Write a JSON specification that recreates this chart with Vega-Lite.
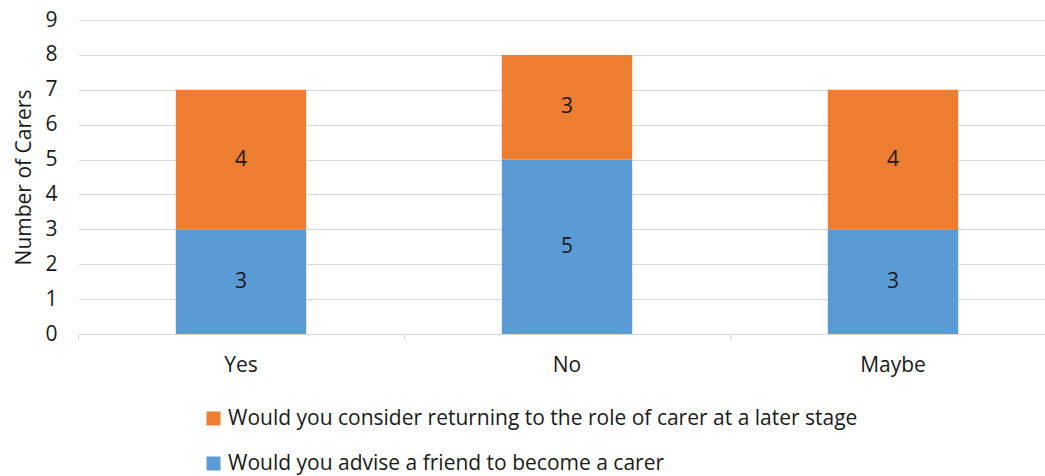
{
  "$schema": "https://vega.github.io/schema/vega-lite/v6.json",
  "width": 967,
  "height": 314,
  "autosize": {"type": "none"},
  "padding": {"left": 78, "top": 20, "right": 0, "bottom": 142},
  "background": "white",
  "config": {"view": {"stroke": null}, "font": "Open Sans"},
  "data": {
    "values": [
      {"answer": "Yes", "series": "Would you advise a friend to become a carer", "count": 3},
      {"answer": "Yes", "series": "Would you consider returning to the role of carer at a later stage", "count": 4},
      {"answer": "No", "series": "Would you advise a friend to become a carer", "count": 5},
      {"answer": "No", "series": "Would you consider returning to the role of carer at a later stage", "count": 3},
      {"answer": "Maybe", "series": "Would you advise a friend to become a carer", "count": 3},
      {"answer": "Maybe", "series": "Would you consider returning to the role of carer at a later stage", "count": 4}
    ]
  },
  "transform": [
    {"stack": "count", "groupby": ["answer"], "sort": [{"field": "series", "order": "ascending"}], "as": ["y0", "y1"]},
    {"calculate": "(datum.y0 + datum.y1) / 2", "as": "ymid"}
  ],
  "resolve": {"axis": {"y": "independent"}},
  "encoding": {
    "x": {
      "field": "answer",
      "type": "nominal",
      "sort": ["Yes", "No", "Maybe"],
      "scale": {"range": [0, 978], "paddingInner": 0.6, "paddingOuter": 0.3},
      "axis": {
        "title": null,
        "labelAngle": 0,
        "labelFontSize": 21,
        "labelColor": "#1a1a1a",
        "labelPadding": 14,
        "domainColor": "#d9d9d9",
        "tickColor": "#d9d9d9",
        "tickSize": 6,
        "bandPosition": -0.75,
        "grid": false
      }
    }
  },
  "layer": [
    {
      "mark": {"type": "bar"},
      "encoding": {
        "y": {
          "field": "y0",
          "type": "quantitative",
          "scale": {"domain": [0, 9], "nice": false},
          "axis": {
            "title": "Number of Carers",
            "titleFontSize": 21,
            "titleFontWeight": "normal",
            "titleColor": "#1a1a1a",
            "titlePadding": 10,
            "labelFontSize": 21,
            "labelColor": "#1a1a1a",
            "labelPadding": 21,
            "values": [0, 1, 2, 3, 4, 5, 6, 7, 8, 9],
            "labelOverlap": false,
            "labelBound": false,
            "ticks": false,
            "domain": false,
            "gridColor": "#d9d9d9",
            "gridWidth": 1
          }
        },
        "y2": {"field": "y1"},
        "color": {
          "field": "series",
          "type": "nominal",
          "scale": {
            "domain": ["Would you consider returning to the role of carer at a later stage", "Would you advise a friend to become a carer"],
            "range": ["#ED7D31", "#5B9BD5"]
          },
          "legend": {
            "title": null,
            "orient": "none",
            "legendX": 125,
            "legendY": 388,
            "direction": "vertical",
            "symbolType": "square",
            "symbolSize": 196,
            "symbolStrokeWidth": 0,
            "labelFont": "Open Sans",
            "labelFontSize": 21,
            "labelColor": "#1a1a1a",
            "labelLimit": 800,
            "rowPadding": 23,
            "labelOffset": 4
          }
        }
      }
    },
    {
      "mark": {"type": "text", "fontSize": 21, "color": "#1a1a1a"},
      "encoding": {
        "y": {"field": "ymid", "type": "quantitative", "axis": null},
        "text": {"field": "count", "type": "quantitative"}
      }
    }
  ]
}
